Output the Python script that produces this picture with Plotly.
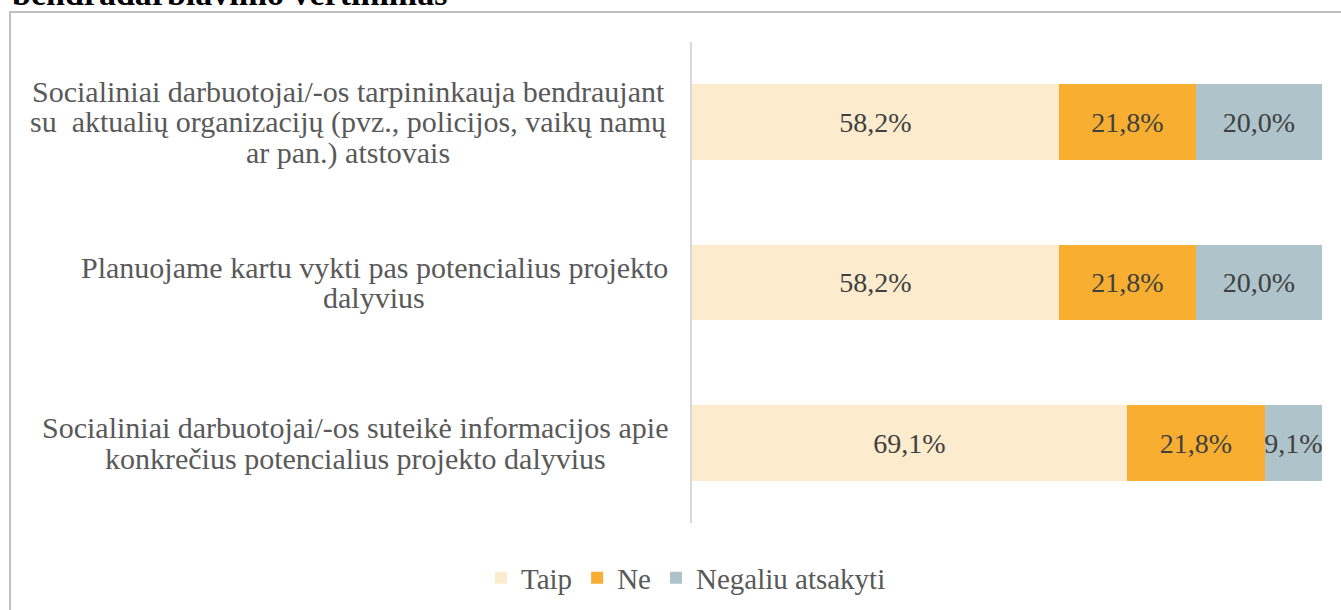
import plotly.graph_objects as go

categories = [
    ["Socialiniai darbuotojai/-os tarpininkauja bendraujant",
     "su  aktualių organizacijų (pvz., policijos, vaikų namų",
     "ar pan.) atstovais"],
    ["Planuojame kartu vykti pas potencialius projekto",
     "dalyvius"],
    ["Socialiniai darbuotojai/-os suteikė informacijos apie",
     "konkrečius potencialius projekto dalyvius"],
]
taip = [58.2, 58.2, 69.1]
ne = [21.8, 21.8, 21.8]
negaliu = [20.0, 20.0, 9.1]
series_names = ["Taip", "Ne", "Negaliu atsakyti"]
colors = ["#FDEBCE", "#F8AF31", "#AFC3CA"]

W, H = 1341, 610
L, R, T, B = 692, 19, 42, 87
pw, ph = W - L - R, H - T - B

SERIF = "Liberation Serif, Times New Roman, serif"
ypos = list(range(len(categories)))

fig = go.Figure()
for name, vals, col in zip(series_names, [taip, ne, negaliu], colors):
    fig.add_trace(go.Bar(
        name=name, y=ypos, x=vals, orientation="h",
        marker=dict(color=col, line=dict(width=0)),
        width=0.47,
        texttemplate="%{x:.1f}%", textposition="inside", textangle=0,
        insidetextanchor="middle", constraintext="none",
        textfont=dict(family=SERIF, size=28, color="#404040"),
        hoverinfo="skip",
    ))

# category labels: each block sits left of the axis, lines centred within it
label_centres_px = [348, 374, 355]
line_gap = 30.5
for i, (lines, cx) in enumerate(zip(categories, label_centres_px)):
    n = len(lines)
    for k, line in enumerate(lines):
        fig.add_annotation(
            x=(cx - L) / pw, xref="paper", y=i, yref="y",
            xanchor="center", yanchor="middle",
            yshift=-(k - (n - 1) / 2) * line_gap,
            text=line, showarrow=False,
            font=dict(family=SERIF, size=30, color="#595959"),
        )

# title, partly above the chart frame
fig.add_annotation(
    x=(10 - L) / pw, xref="paper", y=(H - B - 14) / ph, yref="paper",
    xanchor="left", yanchor="bottom", text="<b>bendradarbiavimo vertinimas</b>",
    showarrow=False, font=dict(family=SERIF, size=34, color="#000000"),
)

# chart frame
fig.add_shape(
    type="rect", xref="paper", yref="paper",
    x0=(10 - L) / pw, x1=(W + 5 - L) / pw,
    y0=(H - B - (H + 5)) / ph, y1=(H - B - 12) / ph,
    line=dict(color="#BFBFBF", width=2), fillcolor="rgba(0,0,0,0)", layer="below",
)

fig.update_layout(
    width=W, height=H, barmode="stack", bargap=0,
    margin=dict(l=L, r=R, t=T, b=B, pad=0),
    paper_bgcolor="white", plot_bgcolor="white",
    separators=", ",
    xaxis=dict(range=[0, 100], visible=False, fixedrange=True),
    yaxis=dict(range=[2.5, -0.5], showticklabels=False, showgrid=False,
               zeroline=False, showline=True, linecolor="#D9D9D9", linewidth=2,
               ticks="", fixedrange=True),
    legend=dict(orientation="h", x=686 / W, xref="container",
                xanchor="center", y=(H - 578) / H, yref="container", yanchor="middle",
                font=dict(family=SERIF, size=29, color="#595959"),
                itemwidth=30, traceorder="normal"),
    showlegend=True,
)

fig.write_html("out.html")
